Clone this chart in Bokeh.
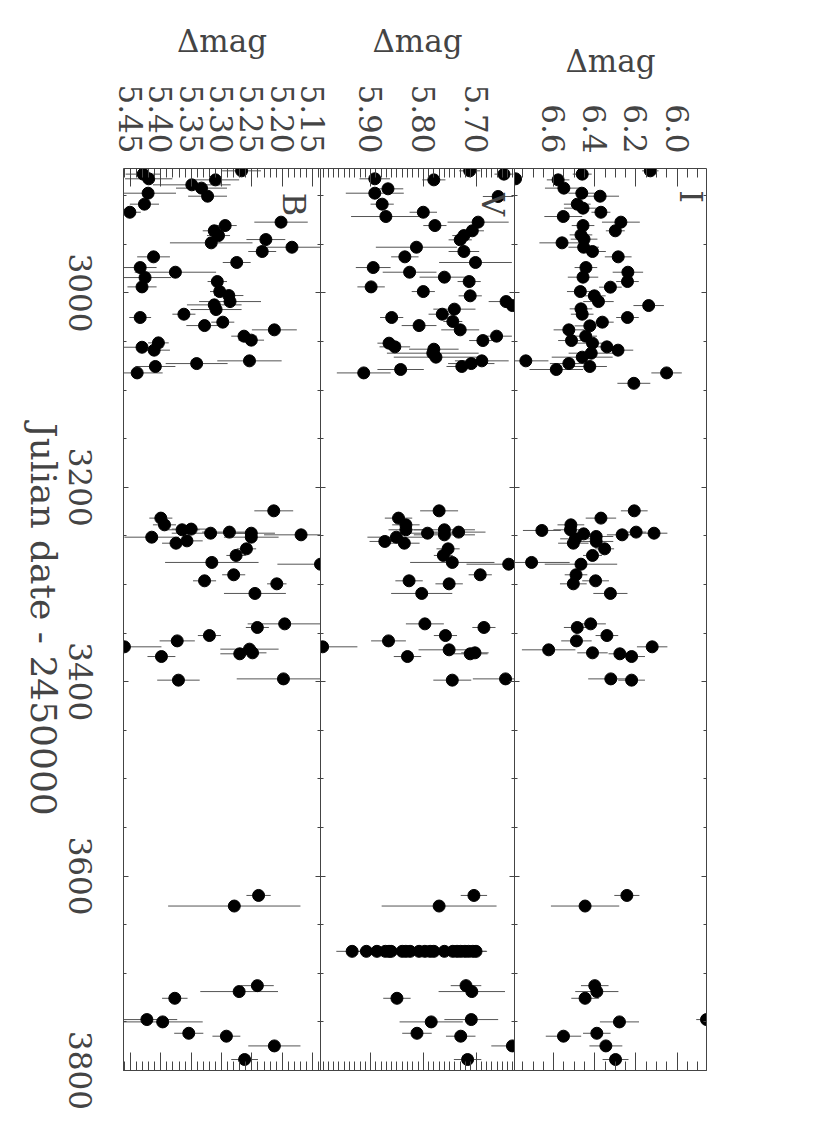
import math
from bokeh.plotting import figure
from bokeh.layouts import row
from bokeh.models import (Range1d, LinearAxis, FixedTicker, Label, ColumnDataSource,
                          CustomJSTickFormatter, PrintfTickFormatter)
from bokeh.embed import file_html
from bokeh.resources import INLINE

# ---------------- data (Julian date - 2450000, delta mag, error) ----------------
B_JD = [2877.8, 2882.6, 2888.8, 2892.2, 2883.7, 2874.4, 2897.4, 2900.5, 2908.7, 2917.0,
        2927.2, 2930.7, 2936.1, 2941.0, 2945.1, 2948.5, 2953.0, 2957.4, 2962.9, 2968.7,
        2973.9, 2978.7, 2984.2, 2988.3, 2993.8, 2998.6, 3002.7, 3008.9, 3012.3, 3017.1,
        3021.9, 3025.3, 3033.6, 3030.1, 3038.0, 3044.5, 3048.6, 3051.4, 3055.9, 3058.9,
        3069.9, 3072.7, 3075.7, 3082.3,
        3224.2, 3231.7, 3238.6, 3243.7, 3243.0, 3247.2, 3246.1, 3247.2, 3251.3, 3248.9,
        3251.3, 3257.5, 3255.1, 3263.3, 3270.1, 3277.3, 3279.1, 3290.0, 3296.2, 3299.3,
        3309.2, 3340.5, 3344.2, 3352.5, 3358.0, 3364.1, 3374.1, 3366.5, 3371.3, 3370.3,
        3398.4, 3397.1,
        3619.9, 3630.8, 3712.7, 3718.8, 3725.7, 3747.6, 3750.0, 3761.7, 3764.7, 3774.7, 3788.7]
B_MAG = [5.429, 5.420, 5.349, 5.333, 5.310, 5.267, 5.421, 5.323, 5.427, 5.451,
         5.202, 5.294, 5.312, 5.305, 5.227, 5.317, 5.184, 5.233, 5.412, 5.275,
         5.434, 5.376, 5.426, 5.307, 5.431, 5.303, 5.288, 5.286, 5.312, 5.309,
         5.362, 5.434, 5.328, 5.298, 5.213, 5.263, 5.251, 5.404, 5.431, 5.411,
         5.254, 5.341, 5.409, 5.439,
         5.214, 5.400, 5.394, 5.365, 5.350, 5.318, 5.287, 5.251, 5.251, 5.169,
         5.415, 5.375, 5.357, 5.259, 5.276, 5.316, 5.137, 5.280, 5.328, 5.209,
         5.245, 5.196, 5.241, 5.320, 5.373, 5.460, 5.399, 5.254, 5.270, 5.249,
         5.371, 5.198,
         5.239, 5.279, 5.241, 5.271, 5.377, 5.423, 5.397, 5.354, 5.292, 5.213, 5.262]
B_ERR = [0.029, 0.039, 0.064, 0.042, 0.039, 0.032, 0.046, 0.032, 0.024, 0.018,
         0.044, 0.019, 0.019, 0.019, 0.032, 0.068, 0.058, 0.023, 0.027, 0.023,
         0.027, 0.067, 0.043, 0.016, 0.024, 0.016, 0.024, 0.051, 0.045, 0.042,
         0.019, 0.018, 0.030, 0.019, 0.037, 0.021, 0.021, 0.017, 0.035, 0.026,
         0.053, 0.051, 0.033, 0.042,
         0.032, 0.019, 0.019, 0.029, 0.032, 0.064, 0.045, 0.039, 0.045, 0.061,
         0.045, 0.023, 0.026, 0.016, 0.016, 0.077, 0.071, 0.019, 0.019, 0.016,
         0.051, 0.061, 0.019, 0.019, 0.029, 0.061, 0.023, 0.048, 0.032, 0.023,
         0.035, 0.077,
         0.020, 0.109, 0.027, 0.064, 0.021, 0.050, 0.066, 0.024, 0.023, 0.043, 0.022]

V_JD = [2882.6, 2883.7, 2874.4, 2877.8, 2897.4, 2892.9, 2900.8, 2908.7, 2917.0, 2921.4,
        2927.2, 2930.7, 2936.1, 2941.0, 2945.4, 2953.0, 2957.4, 2962.9, 2968.7, 2973.9,
        2978.7, 2983.8, 2988.3, 2993.8, 2998.6, 3003.0, 3008.9, 3013.0, 3016.7, 3021.9,
        3025.3, 3029.4, 3033.6, 3038.0, 3044.5, 3049.0, 3051.7, 3055.5, 3057.9, 3062.0,
        3066.1, 3069.9, 3072.7, 3075.7, 3078.8, 3082.3,
        3224.2, 3231.7, 3238.6, 3243.7, 3247.2, 3243.7, 3248.9, 3246.1, 3251.3, 3255.7,
        3257.5, 3263.3, 3270.1, 3277.3, 3279.1, 3290.0, 3296.2, 3299.3, 3309.2, 3340.5,
        3344.2, 3352.5, 3358.0, 3364.1, 3374.1, 3367.2, 3371.3, 3370.3, 3398.4, 3397.1,
        3619.9, 3630.8,
        3677.4, 3677.4, 3677.4, 3677.4, 3677.4, 3677.4, 3677.4, 3677.4, 3677.4, 3677.4,
        3677.4, 3677.4, 3677.4, 3677.4, 3677.4, 3677.4, 3677.4, 3677.4, 3677.4, 3677.4,
        3677.4,
        3712.7, 3718.8, 3725.7, 3747.6, 3750.0, 3761.7, 3764.7, 3774.7, 3788.7]
V_MAG = [5.892, 5.780, 5.712, 5.647, 5.892, 5.867, 5.658, 5.878, 5.800, 5.871,
         5.696, 5.778, 5.707, 5.723, 5.730, 5.813, 5.723, 5.835, 5.701, 5.895,
         5.826, 5.760, 5.713, 5.899, 5.800, 5.711, 5.643, 5.631, 5.741, 5.764,
         5.860, 5.744, 5.808, 5.730, 5.661, 5.687, 5.865, 5.854, 5.780, 5.782,
         5.776, 5.689, 5.709, 5.727, 5.843, 5.913,
         5.770, 5.847, 5.833, 5.833, 5.792, 5.760, 5.760, 5.733, 5.851, 5.873,
         5.836, 5.753, 5.762, 5.745, 5.638, 5.692, 5.827, 5.751, 5.803, 5.797,
         5.685, 5.758, 5.866, 5.991, 5.830, 5.751, 5.711, 5.702, 5.745, 5.644,
         5.704, 5.770,
         5.935, 5.908, 5.888, 5.872, 5.865, 5.861, 5.840, 5.833, 5.825, 5.808,
         5.797, 5.787, 5.780, 5.760, 5.744, 5.736, 5.729, 5.721, 5.714, 5.706,
         5.700,
         5.719, 5.708, 5.850, 5.709, 5.785, 5.812, 5.729, 5.631, 5.716]
V_ERR = [0.029, 0.022, 0.020, 0.018, 0.055, 0.029, 0.029, 0.022, 0.026, 0.066,
         0.058, 0.022, 0.022, 0.022, 0.022, 0.077, 0.029, 0.026, 0.069, 0.033,
         0.051, 0.047, 0.022, 0.026, 0.022, 0.022, 0.033, 0.020, 0.040, 0.026,
         0.022, 0.018, 0.033, 0.036, 0.029, 0.026, 0.022, 0.029, 0.047, 0.087,
         0.080, 0.051, 0.044, 0.029, 0.044, 0.051,
         0.036, 0.026, 0.026, 0.033, 0.058, 0.058, 0.058, 0.051, 0.055, 0.029,
         0.029, 0.022, 0.018, 0.080, 0.080, 0.022, 0.026, 0.026, 0.058, 0.036,
         0.022, 0.022, 0.033, 0.066, 0.026, 0.058, 0.033, 0.026, 0.036, 0.062,
         0.025, 0.109,
         0.030, 0.025, 0.025, 0.025, 0.025, 0.025, 0.025, 0.025, 0.025, 0.025,
         0.025, 0.025, 0.025, 0.025, 0.025, 0.025, 0.025, 0.025, 0.025, 0.025,
         0.021,
         0.029, 0.063, 0.026, 0.051, 0.060, 0.028, 0.028, 0.040, 0.026]

I_JD = [2882.6, 2883.7, 2877.8, 2874.4, 2892.2, 2897.4, 2900.5, 2908.7, 2912.8, 2917.0,
        2921.4, 2927.2, 2930.7, 2936.1, 2940.3, 2944.7, 2948.5, 2953.0, 2957.4, 2962.9,
        2973.9, 2978.7, 2983.8, 2988.3, 2994.1, 2998.6, 3003.0, 3008.9, 3013.0, 3016.4,
        3021.9, 3025.3, 3030.1, 3033.9, 3038.0, 3044.5, 3049.0, 3051.7, 3055.5, 3058.9,
        3062.0, 3066.1, 3069.9, 3072.7, 3075.7, 3078.8, 3082.3, 3093.0,
        3224.2, 3231.7, 3238.6, 3243.7, 3244.4, 3247.9, 3250.6, 3255.7, 3253.0, 3257.5,
        3248.9, 3246.1, 3247.2, 3263.3, 3270.1, 3277.3, 3279.1, 3290.0, 3296.2, 3299.3,
        3309.2, 3340.5, 3344.2, 3352.5, 3358.0, 3367.2, 3364.1, 3370.3, 3371.3, 3374.1,
        3397.1, 3398.4,
        3619.9, 3630.8, 3712.7, 3718.8, 3725.7, 3747.6, 3750.0, 3764.7, 3761.7, 3774.7, 3788.7]
I_MAG = [6.785, 6.578, 6.461, 6.130, 6.550, 6.463, 6.374, 6.485, 6.457, 6.370,
         6.553, 6.273, 6.457, 6.300, 6.467, 6.452, 6.559, 6.454, 6.411, 6.286,
         6.443, 6.239, 6.457, 6.241, 6.324, 6.470, 6.402, 6.382, 6.138, 6.467,
         6.461, 6.241, 6.363, 6.424, 6.526, 6.444, 6.513, 6.411, 6.341, 6.287,
         6.417, 6.461, 6.735, 6.526, 6.424, 6.587, 6.051, 6.210,
         6.208, 6.370, 6.516, 6.518, 6.657, 6.454, 6.393, 6.393, 6.494, 6.504,
         6.267, 6.199, 6.112, 6.352, 6.411, 6.707, 6.467, 6.491, 6.396, 6.504,
         6.324, 6.420, 6.485, 6.341, 6.489, 6.624, 6.121, 6.411, 6.278, 6.221,
         6.322, 6.221,
         6.244, 6.447, 6.400, 6.390, 6.447, 5.857, 6.280, 6.552, 6.390, 6.346, 6.299]
I_ERR = [0.030, 0.055, 0.046, 0.040, 0.092, 0.065, 0.092, 0.065, 0.092, 0.046,
         0.092, 0.092, 0.055, 0.046, 0.055, 0.065, 0.110, 0.074, 0.065, 0.065,
         0.055, 0.074, 0.074, 0.055, 0.055, 0.065, 0.055, 0.074, 0.074, 0.055,
         0.055, 0.055, 0.055, 0.074, 0.074, 0.055, 0.065, 0.083, 0.055, 0.074,
         0.110, 0.148, 0.110, 0.092, 0.083, 0.130, 0.074, 0.080,
         0.065, 0.074, 0.065, 0.083, 0.092, 0.074, 0.083, 0.083, 0.074, 0.074,
         0.074, 0.050, 0.065, 0.046, 0.046, 0.185, 0.176, 0.055, 0.065, 0.065,
         0.083, 0.074, 0.065, 0.055, 0.074, 0.130, 0.074, 0.074, 0.055, 0.065,
         0.110, 0.065,
         0.061, 0.166, 0.067, 0.105, 0.067, 0.050, 0.095, 0.086, 0.067, 0.080, 0.063]

# axis ranges and ticks
JD_RANGE = (3800, 2872)
B_RANGE = (5.4615, 5.137)
V_RANGE = (5.995, 5.627)
I_RANGE = (6.79, 5.857)
JD_MAJOR = [3000, 3200, 3400, 3600, 3800]
JD_MINOR = list(range(2900, 3801, 50))
B_MAJOR = [5.15, 5.20, 5.25, 5.30, 5.35, 5.40, 5.45]
B_MINOR = [round(5.12 + 0.01 * i, 2) for i in range(35)]
V_MAJOR = [5.70, 5.80, 5.90]
V_MINOR = [round(5.62 + 0.01 * i, 2) for i in range(38)]
I_MAJOR = [6.0, 6.2, 6.4, 6.6]
I_MINOR = [round(5.85 + 0.05 * i, 2) for i in range(20)]
X_TITLE = "Δmag"
Y_TITLE = "Julian date - 2450000"

FONT = "DejaVu Serif"
TXT = "#444444"
LINE = "#444444"
FS = "31px"
FRAME_H = 902
TOP = 168
BOTTOM = 45
OVER = 8   # neighbouring canvases overlap so labels at panel edges are not cut


def blank_axis(ax, tick_in, minor_in):
    ax.major_tick_in = tick_in
    ax.major_tick_out = 0
    ax.minor_tick_in = minor_in
    ax.minor_tick_out = 0
    ax.axis_line_color = LINE
    ax.major_tick_line_color = LINE
    ax.minor_tick_line_color = LINE
    ax.formatter = CustomJSTickFormatter(code="return ''")
    ax.major_label_standoff = 0
    ax.major_label_text_font_size = "10px"


def text_style(ax, size=FS):
    ax.major_label_text_font = FONT
    ax.major_label_text_font_size = size
    ax.major_label_text_color = TXT
    ax.axis_label_text_font = FONT
    ax.axis_label_text_font_size = size
    ax.axis_label_text_font_style = "normal"
    ax.axis_label_text_color = TXT


def no_ticks(ax):
    ax.axis_line_color = None
    ax.major_tick_out = 0
    ax.major_tick_in = 0
    ax.minor_tick_out = 0
    ax.minor_tick_in = 0


# ---- left strip holding the Julian-date labels (read top to bottom) ----
STRIP = 18
pL = figure(frame_width=STRIP, frame_height=FRAME_H, x_range=Range1d(0, 1),
            y_range=Range1d(*JD_RANGE), output_backend="svg", toolbar_location=None,
            x_axis_location=None, y_axis_location=None,
            min_border_left=0, min_border_right=123 - STRIP,
            min_border_top=TOP, min_border_bottom=BOTTOM)
pL.outline_line_color = None
pL.grid.visible = False
ax_title = LinearAxis(ticker=FixedTicker(ticks=[]), axis_label=Y_TITLE)
text_style(ax_title, "36px")
no_ticks(ax_title)
ax_title.axis_label_standoff = 4
ax_title.major_label_standoff = 0
pL.add_layout(ax_title, "right")
ax_jd = LinearAxis(ticker=FixedTicker(ticks=JD_MAJOR), formatter=PrintfTickFormatter(format="%d"))
text_style(ax_jd)
no_ticks(ax_jd)
ax_jd.major_label_standoff = 2
ax_jd.major_label_orientation = "vertical"
pL.add_layout(ax_jd, "right")


def make_panel(jd, mag, err, xr, major, minor, fmt, name, name_x, name_y,
               frame_w, left_border, right_border):
    p = figure(frame_width=frame_w, frame_height=FRAME_H,
               x_range=Range1d(*xr), y_range=Range1d(*JD_RANGE),
               output_backend="svg", toolbar_location=None,
               x_axis_location=None, y_axis_location=None,
               min_border_left=left_border, min_border_right=right_border,
               min_border_top=TOP, min_border_bottom=BOTTOM)
    p.outline_line_color = None
    p.grid.visible = False
    p.border_fill_color = None
    p.margin = (0, 0, 0, -OVER)

    top = LinearAxis(ticker=FixedTicker(ticks=major, minor_ticks=minor),
                     formatter=PrintfTickFormatter(format=fmt), axis_label=X_TITLE)
    text_style(top)
    top.major_tick_in = 18
    top.major_tick_out = 0
    top.minor_tick_in = 9
    top.minor_tick_out = 0
    top.axis_line_color = LINE
    top.major_tick_line_color = LINE
    top.minor_tick_line_color = LINE
    top.major_label_orientation = -math.pi / 2
    top.major_label_standoff = 15
    top.axis_label_standoff = 22
    p.add_layout(top, "above")

    bot = LinearAxis(ticker=FixedTicker(ticks=major, minor_ticks=minor))
    blank_axis(bot, 18, 9)
    p.add_layout(bot, "below")
    for side in ("left", "right"):
        ax = LinearAxis(ticker=FixedTicker(ticks=JD_MAJOR, minor_ticks=JD_MINOR))
        blank_axis(ax, 5, 3)
        p.add_layout(ax, side)

    src = ColumnDataSource(dict(jd=jd, mag=mag,
                                lo=[m - e for m, e in zip(mag, err)],
                                hi=[m + e for m, e in zip(mag, err)]))
    p.segment(x0="lo", x1="hi", y0="jd", y1="jd", source=src,
              line_color="#555555", line_width=1)
    p.scatter(x="mag", y="jd", source=src, marker="circle",
              size=12, fill_color="black", line_color="black")

    p.add_layout(Label(x=name_x, y=name_y, text=name, angle=-math.pi / 2,
                       text_font=FONT, text_font_size="32px", text_color=TXT,
                       text_align="center", text_baseline="middle"))
    return p


# B: canvas starts OVER px left of its frame (over the strip), ends OVER px right of it;
# V and I start exactly at their frames and are pulled left by OVER.
pB = make_panel(B_JD, B_MAG, B_ERR, B_RANGE, B_MAJOR, B_MINOR, "%.2f", "B", 5.180, 2909,
                197, OVER, OVER)
pV = make_panel(V_JD, V_MAG, V_ERR, V_RANGE, V_MAJOR, V_MINOR, "%.2f", "V", 5.667, 2909,
                194, 0, OVER)
pI = make_panel(I_JD, I_MAG, I_ERR, I_RANGE, I_MAJOR, I_MINOR, "%.1f", "I", 5.934, 2901,
                192, 0, 10)

layout = row(pL, pB, pV, pI, spacing=0)
open("out.html", "w").write(file_html(layout, INLINE))
